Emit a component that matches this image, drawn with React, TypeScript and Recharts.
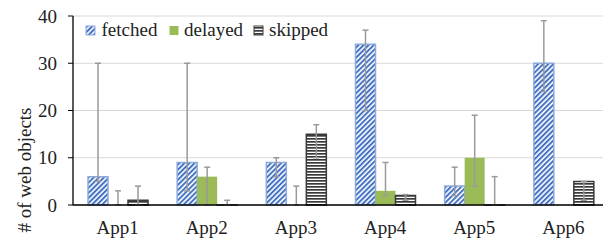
import React from 'react'
import { BarChart, Bar, XAxis, YAxis, CartesianGrid, ErrorBar, Legend } from 'recharts'

const apps = ['App1', 'App2', 'App3', 'App4', 'App5', 'App6']
const fetched = [6, 9, 9, 34, 4, 30]
const delayed = [0, 6, 0, 3, 10, 0]
const skipped = [1, 0, 15, 2, 0, 5]
// error bars as [below, above] the bar value
const fetchedErr = [[1, 24], [6, 21], [3, 1], [14, 3], [2, 4], [6, 9]]
const delayedErr = [[0, 3], [6, 2], [0, 4], [1, 6], [6, 9], null]
const skippedErr = [[1, 3], [0, 1], [5, 2], [1, 0.2], [0, 6], [4, 0]]
const yTicks = [0, 10, 20, 30, 40]

const FONT = 'Liberation Serif, serif'
const BLUE = '#4472c4'
const BLUE_EDGE = '#8eaadb'
const GREEN = '#9bbb59'
const DARK = '#3a3a3a'
const ERR = '#9a9a9a'

const data = apps.map((app, i) => ({
  app,
  fetched: fetched[i],
  delayed: delayed[i],
  skipped: skipped[i],
  fetchedErr: fetchedErr[i],
  delayedErr: delayedErr[i],
  skippedErr: skippedErr[i],
}))

function LegendBox() {
  const items = [
    { name: 'fetched', icon: 86, text: 101.5, fill: 'url(#fetchedPat)', stroke: BLUE_EDGE },
    { name: 'delayed', icon: 169.5, text: 184, fill: GREEN, stroke: 'none' },
    { name: 'skipped', icon: 254, text: 269, fill: 'url(#skippedPat)', stroke: DARK },
  ]
  return (
    <svg width={400} height={45} style={{ display: 'block' }}>
      {items.map((it) => (
        <g key={it.name}>
          <rect x={it.icon} y={26} width={9} height={9} fill={it.fill} stroke={it.stroke} strokeWidth={1} />
          <text x={it.text} y={36} style={{ fontSize: 19, fontFamily: FONT }} fill="#222">
            {it.name}
          </text>
        </g>
      ))}
    </svg>
  )
}

export default function App() {
  return (
    <div
      style={{
        position: 'absolute',
        left: 0,
        top: 0,
        width: 603,
        height: 241,
        overflow: 'hidden',
        background: '#fff',
        fontFamily: FONT,
      }}
    >
      <BarChart
        width={612}
        height={241}
        data={data}
        margin={{ top: 16, right: 4, left: 0, bottom: 0 }}
        barSize={20}
        barGap={0}
      >
        <defs>
          <pattern id="fetchedPat" width={3.6} height={3.6} patternUnits="userSpaceOnUse" patternTransform="rotate(45)">
            <rect width={3.6} height={3.6} fill="#fff" />
            <rect width={2} height={3.6} fill={BLUE} />
          </pattern>
          <pattern id="skippedPat" width={4} height={3} patternUnits="userSpaceOnUse">
            <rect width={4} height={3} fill="#fff" />
            <rect width={4} height={1.7} fill={DARK} />
          </pattern>
        </defs>
        <CartesianGrid vertical={false} stroke="#d9d9d9" strokeWidth={1} />
        <XAxis
          dataKey="app"
          tickLine={false}
          axisLine={{ stroke: '#000', strokeWidth: 1.3 }}
          height={36}
          tickSize={6}
          tickMargin={10}
          tick={{ fontSize: 19, fontFamily: FONT, fill: '#222' }}
          interval={0}
        />
        <YAxis
          domain={[0, 40]}
          ticks={yTicks}
          width={73}
          tickSize={5}
          tickMargin={11}
          axisLine={{ stroke: '#000', strokeWidth: 1.3 }}
          tickLine={{ stroke: '#000' }}
          tick={{ fontSize: 19, fontFamily: FONT, fill: '#222' }}
          label={() => (
            <text
              x={24}
              y={170}
              transform="rotate(-90 24 170)"
              textAnchor="middle"
              dominantBaseline="central"
              style={{ fontSize: 19, fontFamily: FONT }}
              fill="#222"
            >
              # of web objects
            </text>
          )}
        />
        <Legend
          layout="horizontal"
          verticalAlign="middle"
          align="center"
          wrapperStyle={{ top: 0, left: 0, width: 400, height: 45 }}
          content={() => <LegendBox />}
        />
        <Bar dataKey="fetched" fill="url(#fetchedPat)" stroke={BLUE_EDGE} strokeWidth={1.5} isAnimationActive={false}>
          <ErrorBar dataKey="fetchedErr" width={3} stroke={ERR} strokeWidth={1.5} direction="y" />
        </Bar>
        {/* tiny minPointSize keeps zero bars in the list so their error bars get drawn */}
        <Bar dataKey="delayed" fill={GREEN} minPointSize={0.01} isAnimationActive={false}>
          <ErrorBar dataKey="delayedErr" width={3} stroke={ERR} strokeWidth={1.5} direction="y" />
        </Bar>
        <Bar dataKey="skipped" fill="url(#skippedPat)" stroke={DARK} strokeWidth={1.5} minPointSize={0.01} isAnimationActive={false}>
          <ErrorBar dataKey="skippedErr" width={3} stroke={ERR} strokeWidth={1.5} direction="y" />
        </Bar>
      </BarChart>
    </div>
  )
}
